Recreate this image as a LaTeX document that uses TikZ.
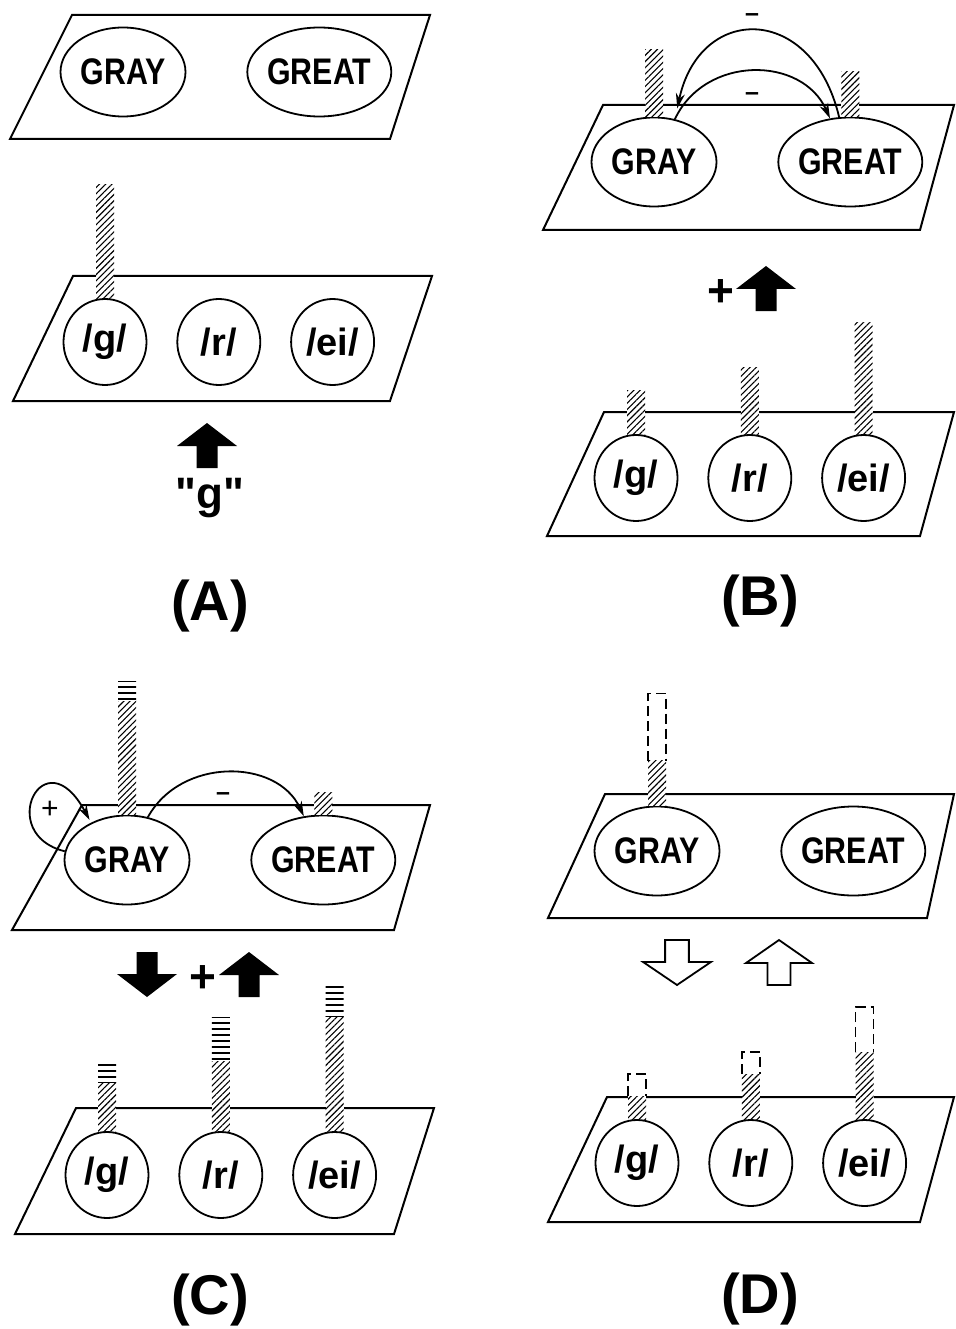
\documentclass[tikz,border=0pt]{standalone}
\usepackage{fontspec}
\setmainfont{Liberation Sans}
\newfontfamily\wordfont{Liberation Sans}[FakeStretch=0.82]
\newfontfamily\cuefont{Liberation Sans}[Ligatures=TeXOff]
\usetikzlibrary{
  positioning,
  arrows.meta,
  calc,
  patterns.meta,
  shapes.geometric
}

% activation bars standing on a unit
\newcommand{\hatchbar}[2]{%
  \path[hatch] ($(#1.north)+(-9,0)$) rectangle ($(#1.north)+(9,-#2)$);}
\newcommand{\linebar}[3]{%
  \path[hlines] ($(#1.north)+(-9,-#2)$) rectangle ($(#1.north)+(9,-#3)$);}
\newcommand{\ghostbar}[3]{%
  \draw[ghost] ($(#1.north)+(-9,-#2)$) |- ($(#1.north)+(0,-#3)$) -| ($(#1.north)+(9,-#2)$);}

\begin{document}
\begin{tikzpicture}[
  x=1pt, y=-1pt,
  node distance=60pt,
  plane/.style={draw, line width=2pt},
  word/.style={draw, ellipse, line width=1.8pt, fill=white, inner sep=0pt, inner xsep=-15pt,
    minimum width=125pt, minimum height=89pt, font=\wordfont\bfseries\fontsize{37}{40}\selectfont},
  wide/.style={word, minimum width=144pt},
  phon/.style={draw, ellipse, line width=1.8pt, fill=white, inner sep=0pt,
    minimum width=83pt, minimum height=86pt, font=\bfseries\fontsize{38}{40}\selectfont},
  hatch/.style={preaction={fill=white}, pattern={Lines[angle=45, distance=4.4pt, line width=1.1pt]}},
  hlines/.style={preaction={fill=white}, pattern={Lines[angle=0, distance=6pt, line width=1.3pt]}},
  ghost/.style={line width=1.6pt, dash pattern=on 10pt off 5pt},
  link/.style={-{Stealth[length=15pt, width=9pt]}, line width=1.8pt},
  sign/.style={font=\bfseries\fontsize{25}{25}\selectfont},
  plus/.style={font=\bfseries\fontsize{46}{46}\selectfont},
  caption/.style={font=\bfseries\fontsize{56}{60}\selectfont},
  blockup/.pic={\path[pic actions] (0,0) -- (30,23) -- (10.5,23) -- (10.5,45) -- (-10.5,45) -- (-10.5,23) -- (-30,23) -- cycle;}
]
\useasboundingbox (0,0) rectangle (955,1329);

% ---------- (A) ----------
\draw[plane] (72,15) -- (430,15) -- (390,139) -- (10,139) -- cycle;
\draw[plane] (73,276) -- (432,276) -- (390,401) -- (13,401) -- cycle;
\node[word] (grayA) at (123,72) {GRAY};
\node[wide, right=of grayA] (greatA) {GREAT};
\node[phon] (gA) at (105,342) {/g/};
\node[phon, right=29pt of gA] (rA) {/r/};
\node[phon, right=29pt of rA] (eiA) {/ei/};
\hatchbar{gA}{114}
\pic[fill] at (207,423) {blockup};
\node[font=\cuefont\bfseries\fontsize{44}{46}\selectfont, anchor=base] (cue) at (210,508) {"g"};
\node[caption] (capA) at (210,606) {(A)};

% ---------- (B) ----------
\draw[plane] (603,105) -- (954,105) -- (920,230) -- (543,230) -- cycle;
\draw[plane] (604,412) -- (954,412) -- (920,536) -- (547,536) -- cycle;
\node[word] (grayB) at (654,162) {GRAY};
\node[wide, right=of grayB] (greatB) {GREAT};
\node[phon] (gB) at (636,478) {/g/};
\node[phon, right=29pt of gB] (rB) {/r/};
\node[phon, right=29pt of rB] (eiB) {/ei/};
\hatchbar{grayB}{67}
\hatchbar{greatB}{45}
\hatchbar{gB}{44}
\hatchbar{rB}{67}
\hatchbar{eiB}{112}
\draw[link, shorten >=11pt] (greatB.104) .. controls +(-27,-114) and +(25,-116) .. (grayB.64);
\draw[link] (grayB.64) .. controls +(30,-64) and +(-28,-63) .. (greatB.115);
\node[sign] at (752,18) {--};
\node[sign] at (752,97) {--};
\node[plus] at (721,293) {+};
\pic[fill] at (766,266) {blockup};
\node[caption] (capB) at (760,601) {(B)};

% ---------- (C) ----------
\draw[plane] (82,805) -- (430,805) -- (394,930) -- (12,930) -- cycle;
\draw[plane] (76,1108) -- (434,1108) -- (394,1234) -- (15,1234) -- cycle;
\node[word] (grayC) at (127,860) {GRAY};
\node[wide, right=of grayC] (greatC) {GREAT};
\node[phon] (gC) at (107,1175) {/g/};
\node[phon, right=29pt of gC] (rC) {/r/};
\node[phon, right=29pt of rC] (eiC) {/ei/};
\hatchbar{grayC}{114}
\linebar{grayC}{114}{133}
\hatchbar{greatC}{22}
\hatchbar{gC}{49}
\linebar{gC}{49}{69}
\hatchbar{rC}{70}
\linebar{rC}{70}{114}
\hatchbar{eiC}{115}
\linebar{eiC}{115}{149}
\draw[link, shorten >=3pt] (grayC.172) .. controls +(-70,-17) and +(-47,-88) .. (grayC.134);
\node[font=\fontsize{30}{30}\selectfont] at (50,810) {+};
\draw[link] (grayC.64) .. controls +(33,-60) and +(-27,-58) .. (greatC.114);
\node[sign] at (223,797) {--};
\pic[fill, yscale=-1] at (147,997) {blockup};
\node[plus] at (203,979) {+};
\pic[fill] at (249,952) {blockup};
\node[caption] (capC) at (210,1300) {(C)};

% ---------- (D) ----------
\draw[plane] (605,794) -- (954,794) -- (927,918) -- (548,918) -- cycle;
\draw[plane] (607,1097) -- (954,1097) -- (920,1222) -- (548,1222) -- cycle;
\node[word] (grayD) at (657,851) {GRAY};
\node[wide, right=of grayD] (greatD) {GREAT};
\node[phon] (gD) at (637,1163) {/g/};
\node[phon, right=29pt of gD] (rD) {/r/};
\node[phon, right=29pt of rD] (eiD) {/ei/};
\hatchbar{grayD}{45}
\ghostbar{grayD}{45}{112}
\hatchbar{gD}{23}
\ghostbar{gD}{23}{45}
\hatchbar{rD}{45}
\ghostbar{rD}{45}{67}
\hatchbar{eiD}{67}
\ghostbar{eiD}{67}{112}
\pic[draw, line width=1.8pt, xscale=1.13, yscale=-1] at (677,985) {blockup};
\pic[draw, line width=1.8pt, xscale=1.1] at (779,940) {blockup};
\node[caption] (capD) at (760,1299) {(D)};

\end{tikzpicture}
\end{document}
